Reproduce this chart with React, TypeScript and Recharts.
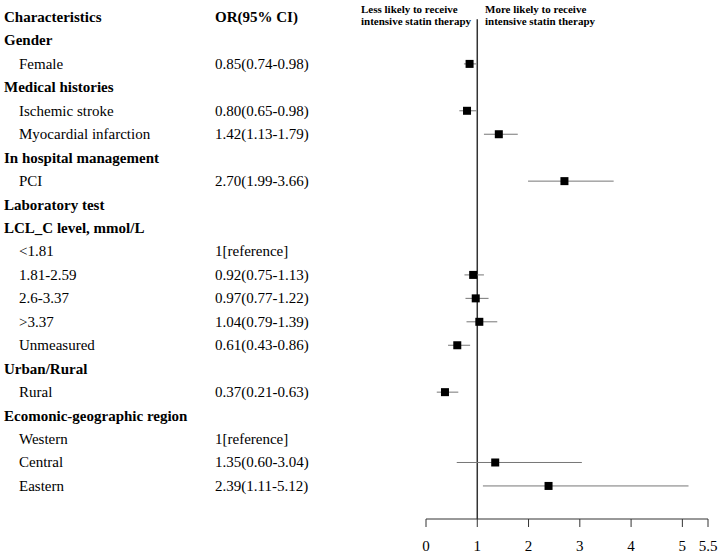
import { ScatterChart, Scatter, XAxis, YAxis, ErrorBar, ReferenceLine } from 'recharts'

// rows, top to bottom
const labels = [
  'Characteristics', 'Gender', 'Female', 'Medical histories', 'Ischemic stroke', 'Myocardial infarction',
  'In hospital management', 'PCI', 'Laboratory test', 'LCL_C level, mmol/L', '<1.81', '1.81-2.59',
  '2.6-3.37', '>3.37', 'Unmeasured', 'Urban/Rural', 'Rural', 'Ecomonic-geographic region',
  'Western', 'Central', 'Eastern',
]
const orLabels = [
  'OR(95% CI)', '', '0.85(0.74-0.98)', '', '0.80(0.65-0.98)', '1.42(1.13-1.79)',
  '', '2.70(1.99-3.66)', '', '', '1[reference]', '0.92(0.75-1.13)',
  '0.97(0.77-1.22)', '1.04(0.79-1.39)', '0.61(0.43-0.86)', '', '0.37(0.21-0.63)', '',
  '1[reference]', '1.35(0.60-3.04)', '2.39(1.11-5.12)',
]
const headerRows = [0, 1, 3, 6, 8, 9, 15, 17]
const orValues = [null, null, 0.85, null, 0.80, 1.42, null, 2.70, null, null, null, 0.92, 0.97, 1.04, 0.61, null, 0.37, null, null, 1.35, 2.39]
const lowValues = [null, null, 0.74, null, 0.65, 1.13, null, 1.99, null, null, null, 0.75, 0.77, 0.79, 0.43, null, 0.21, null, null, 0.60, 1.11]
const highValues = [null, null, 0.98, null, 0.98, 1.79, null, 3.66, null, null, null, 1.13, 1.22, 1.39, 0.86, null, 0.63, null, null, 3.04, 5.12]
const xTicks = [0, 1, 2, 3, 4, 5, 5.5]

const points = orValues
  .map((v, i) => ({ row: i, or: v, lo: lowValues[i], hi: highValues[i] }))
  .filter((d) => d.or !== null)
  .map((d) => ({ ...d, err: [(d.or as number) - (d.lo as number), (d.hi as number) - (d.or as number)] }))

const rowTicks = labels.map((_, i) => i)
const FONT = '"Liberation Serif", "Times New Roman", serif'

const renderRowTick = (props: any) => {
  const i = props.payload.value
  const bold = headerRows.includes(i)
  return (
    <g key={`row-${i}`}>
      <text x={bold ? 4 : 19} y={props.y} dy={5} fontSize={15} fontWeight={bold ? 'bold' : 'normal'} fontFamily={FONT} fill="#000">
        {labels[i]}
      </text>
      <text x={215} y={props.y} dy={5} fontSize={15} fontWeight={i === 0 ? 'bold' : 'normal'} fontFamily={FONT} fill="#000">
        {orLabels[i]}
      </text>
    </g>
  )
}

const Square = (p: any) => <rect x={p.cx - 4} y={p.cy - 4} width={8} height={8} fill="#000" />

const noteStyle = {
  position: 'absolute' as const,
  fontFamily: FONT,
  fontWeight: 'bold' as const,
  fontSize: 11,
  lineHeight: '12px',
  color: '#000',
  whiteSpace: 'nowrap' as const,
}

export default function App() {
  return (
    <div style={{ position: 'absolute', left: 0, top: 0, width: 720, height: 557, background: '#fff' }}>
      <ScatterChart width={720} height={557} margin={{ top: 17, right: 12, bottom: 0, left: 425 }}>
        <XAxis
          type="number"
          dataKey="or"
          domain={[0, 5.5]}
          ticks={xTicks}
          interval={0}
          height={38}
          stroke="#333"
          tickSize={8}
          tickMargin={13}
          tick={{ fontSize: 15, fill: '#000', fontFamily: FONT }}
        />
        <YAxis
          type="number"
          dataKey="row"
          domain={[0, 21.41]}
          reversed
          ticks={rowTicks}
          interval={0}
          width={1}
          axisLine={false}
          tickLine={false}
          tick={renderRowTick}
        />
        <ReferenceLine segment={[{ x: 1, y: 0.1 }, { x: 1, y: 21.41 }]} stroke="#333" strokeWidth={1.5} />
        <Scatter data={points} shape={<Square />} isAnimationActive={false}>
          <ErrorBar dataKey="err" direction="x" width={0} stroke="#777" strokeWidth={1} />
        </Scatter>
      </ScatterChart>
      <div style={{ ...noteStyle, left: 361, top: 3 }}>
        Less likely to receive
        <br />
        intensive statin therapy
      </div>
      <div style={{ ...noteStyle, left: 485, top: 3 }}>
        More likely to receive
        <br />
        intensive statin therapy
      </div>
    </div>
  )
}
